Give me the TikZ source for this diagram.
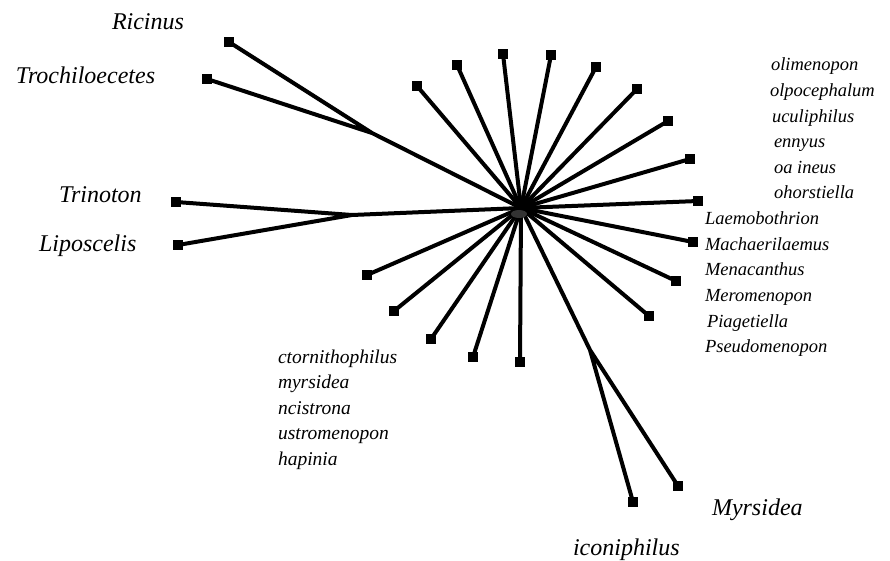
\documentclass[tikz,border=0pt]{standalone}
\usepackage{fontspec}
\setmainfont{Liberation Serif}

\begin{document}
\begin{tikzpicture}[x=1pt,y=-1pt,line width=4pt,
  leaf/.style={fill=black,inner sep=0pt,minimum size=9.5pt},
  bigname/.style={font=\fontsize{24}{28}\selectfont\itshape,inner sep=0pt,anchor=base west},
  smallname/.style={font=\fontsize{18.5}{22}\selectfont\itshape,inner sep=0pt,anchor=base west}]
  \useasboundingbox (0,0) rectangle (890,561);
  \coordinate (hub) at (521,208);
  \coordinate (jtop) at (372,133);
  \coordinate (jleft) at (352,215);
  \coordinate (jlow) at (590,350);
  % star of single leaves
  \foreach \px/\py [count=\i] in {417/86, 457/65, 503/54, 551/55, 596/67, 637/89, 668/121, 690/159, 698/201, 693/242, 676/281, 649/316}{
    \node[leaf] (r\i) at (\px,\py) {};
    \draw (hub) -- (r\i.center);
  }
  \foreach \px/\py [count=\i] in {367/275, 394/311, 431/339, 473/357, 520/362}{
    \node[leaf] (s\i) at (\px,\py) {};
    \draw (hub) -- (s\i.center);
  }
  % paired branches
  \node[leaf] (ric) at (229,42) {};
  \node[leaf] (tro) at (207,79) {};
  \node[leaf] (tri) at (176,202) {};
  \node[leaf] (lip) at (178,245) {};
  \node[leaf] (ico) at (633,502) {};
  \node[leaf] (myr) at (678,486) {};
  \draw (hub) -- (jtop) (ric.center) -- (jtop) -- (tro.center);
  \draw (hub) -- (jleft) (tri.center) -- (jleft) -- (lip.center);
  \draw (hub) -- (jlow) (ico.center) -- (jlow) -- (myr.center);
  \fill[black!80] (519,214) ellipse (8 and 4);
  % labels
  \node[bigname] (lric) at (110,30) {Ricinus};
  \node[bigname] (ltro) at (14,84) {Trochiloecetes};
  \node[bigname] (ltri) at (57,203) {Trinoton};
  \node[bigname] (llip) at (37,251) {Liposcelis};
  \node[bigname] (lmyr) at (710,515) {Myrsidea};
  \node[bigname] (lico) at (571,555) {iconiphilus};
  \foreach \lx/\lab [count=\i] in {769/olimenopon, 768/olpocephalum, 770/uculiphilus, 772/ennyus, 772/oa ineus, 772/ohorstiella, 703/Laemobothrion, 703/Machaerilaemus, 703/Menacanthus, 703/Meromenopon, 705/Piagetiella, 703/Pseudomenopon}{
    \node[smallname] (n\i) at (\lx,{71+25.6*(\i-1)}) {\lab};
  }
  \foreach \lab [count=\i] in {ctornithophilus, myrsidea, ncistrona, ustromenopon, hapinia}{
    \node[smallname,font=\fontsize{19.5}{22}\selectfont\itshape] (m\i) at (276,{363+25.5*(\i-1)}) {\lab};
  }
\end{tikzpicture}
\end{document}
